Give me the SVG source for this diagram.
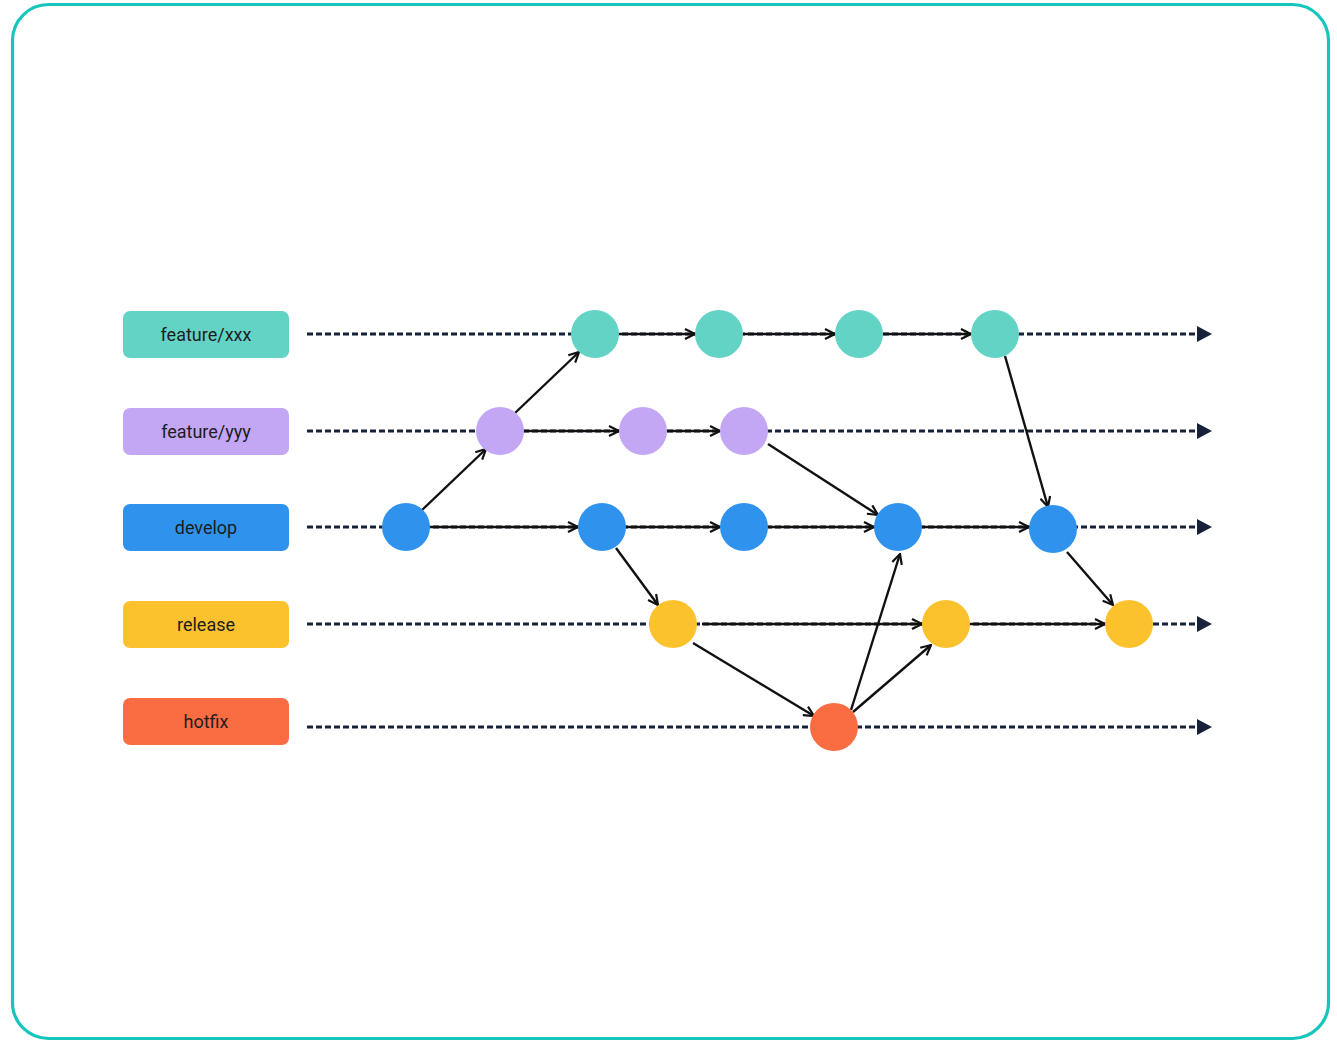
<svg xmlns="http://www.w3.org/2000/svg" width="1337" height="1041" viewBox="0 0 1337 1041">
  <style>
    .frame { fill: #ffffff; stroke: #16c6bd; stroke-width: 3.2; }
    .label rect { rx: 7; ry: 7; }
    .label text { font-family: Roboto, "Liberation Sans", sans-serif; font-size: 18px; fill: #1d1d1d; text-anchor: middle; dominant-baseline: central; }
    .lane { stroke: #172238; stroke-width: 3; stroke-dasharray: 6 3; fill: none; }
    .flow { stroke: #111111; stroke-width: 2.4; fill: none; marker-end: url(#chev); }
    .teal { fill: #63d3c6; }
    .lilac { fill: #c3a6f4; }
    .blue { fill: #2f93ee; }
    .amber { fill: #fcc22e; }
    .coral { fill: #fa6d42; }
  </style>
  <defs>
    <marker id="chev" viewBox="0 0 12 12" refX="11" refY="6" markerWidth="12" markerHeight="12" markerUnits="userSpaceOnUse" orient="auto">
      <path d="M1,1 L11,6 L1,11" fill="none" stroke="#111111" stroke-width="2.2"/>
    </marker>
    <marker id="tri" viewBox="0 0 15 16" refX="1" refY="8" markerWidth="15" markerHeight="16" markerUnits="userSpaceOnUse" orient="auto">
      <path d="M0,0 L15,8 L0,16 Z" fill="#172238"/>
    </marker>
  </defs>

  <rect class="frame" x="12.5" y="4.5" width="1316" height="1034" rx="36" ry="36"/>

  <!-- branch labels -->
  <g id="label-feature-xxx" class="label">
    <rect class="teal" x="123" y="311" width="166" height="47"/>
    <text x="206" y="334.5">feature/xxx</text>
  </g>
  <g id="label-feature-yyy" class="label">
    <rect class="lilac" x="123" y="408" width="166" height="47"/>
    <text x="206" y="431.5">feature/yyy</text>
  </g>
  <g id="label-develop" class="label">
    <rect class="blue" x="123" y="504" width="166" height="47"/>
    <text x="206" y="527.5">develop</text>
  </g>
  <g id="label-release" class="label">
    <rect class="amber" x="123" y="601" width="166" height="47"/>
    <text x="206" y="624.5">release</text>
  </g>
  <g id="label-hotfix" class="label">
    <rect class="coral" x="123" y="698" width="166" height="47"/>
    <text x="206" y="721.5">hotfix</text>
  </g>

  <!-- connectors: dashed lanes, then solid commit arrows -->
  <g id="connectors">
    <path class="lane" d="M307,334 H1198" marker-end="url(#tri)"/>
    <path class="lane" d="M307,431 H1198" marker-end="url(#tri)"/>
    <path class="lane" d="M307,527 H1198" marker-end="url(#tri)"/>
    <path class="lane" d="M307,624 H1198" marker-end="url(#tri)"/>
    <path class="lane" d="M307,727 H1198" marker-end="url(#tri)"/>

    <!-- feature/xxx -->
    <path class="flow" d="M619,334 H695"/>
    <path class="flow" d="M743,334 H835"/>
    <path class="flow" d="M883,334 H971"/>
    <!-- feature/yyy -->
    <path class="flow" d="M524,431 H619"/>
    <path class="flow" d="M667,431 H720"/>
    <!-- develop -->
    <path class="flow" d="M430,527 H578"/>
    <path class="flow" d="M626,527 H720"/>
    <path class="flow" d="M768,527 H874"/>
    <path class="flow" d="M922,527 H1029"/>
    <!-- release -->
    <path class="flow" d="M702,624 H922"/>
    <path class="flow" d="M970,624 H1105"/>

    <!-- cross-branch -->
    <path class="flow" d="M422,510 L486,449"/>
    <path class="flow" d="M515,413 L579,352"/>
    <path class="flow" d="M616,548 L658,605"/>
    <path class="flow" d="M768,444 L878,515"/>
    <path class="flow" d="M1005,356 L1048,507"/>
    <path class="flow" d="M693,643 L814,716"/>
    <path class="flow" d="M851,710 L900,554"/>
    <path class="flow" d="M853,712 L931,645"/>
    <path class="flow" d="M1067,552 L1113,605"/>
  </g>

  <!-- commits -->
  <g id="feature-xxx-commits" class="teal">
    <circle cx="595" cy="334" r="24"/>
    <circle cx="719" cy="334" r="24"/>
    <circle cx="859" cy="334" r="24"/>
    <circle cx="995" cy="334" r="24"/>
  </g>
  <g id="feature-yyy-commits" class="lilac">
    <circle cx="500" cy="431" r="24"/>
    <circle cx="643" cy="431" r="24"/>
    <circle cx="744" cy="431" r="24"/>
  </g>
  <g id="develop-commits" class="blue">
    <circle cx="406" cy="527" r="24"/>
    <circle cx="602" cy="527" r="24"/>
    <circle cx="744" cy="527" r="24"/>
    <circle cx="898" cy="527" r="24"/>
    <circle cx="1053" cy="529" r="24"/>
  </g>
  <g id="release-commits" class="amber">
    <circle cx="673" cy="624" r="24"/>
    <circle cx="946" cy="624" r="24"/>
    <circle cx="1129" cy="624" r="24"/>
  </g>
  <g id="hotfix-commits" class="coral">
    <circle cx="834" cy="727" r="24"/>
  </g>
</svg>
